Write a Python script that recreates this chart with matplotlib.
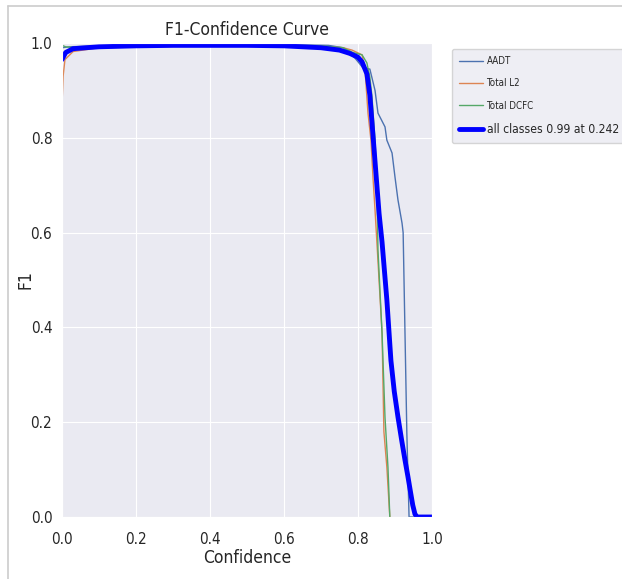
import matplotlib
matplotlib.use("Agg")
import matplotlib.pyplot as plt
import seaborn as sns
from matplotlib.lines import Line2D

sns.set_style("darkgrid")
plt.rcParams['font.family'] = ['DejaVu Sans']
plt.rcParams['font.stretch'] = 'condensed'

# curve points (confidence, F1)
aadt_x = [0.0, 0.02, 0.1, 0.3, 0.5, 0.65, 0.72, 0.76, 0.792, 0.814, 0.832, 0.846, 0.854, 0.873,
          0.878, 0.892, 0.90, 0.908, 0.919, 0.922, 0.927, 0.932, 0.938, 1.0]
aadt_y = [0.99, 0.992, 0.994, 0.996, 0.996, 0.996, 0.995, 0.99, 0.968, 0.947, 0.945, 0.90, 0.852,
          0.823, 0.795, 0.768, 0.717, 0.669, 0.62, 0.60, 0.388, 0.177, 0.0, 0.0]

l2_x = [0.0, 0.003, 0.008, 0.03, 0.1, 0.3, 0.5, 0.7, 0.76, 0.784, 0.811, 0.819, 0.827, 0.835,
        0.841, 0.846, 0.854, 0.865, 0.870, 0.878, 0.886]
l2_y = [0.87, 0.93, 0.965, 0.982, 0.99, 0.993, 0.994, 0.993, 0.99, 0.985, 0.975, 0.943, 0.852,
        0.795, 0.71, 0.648, 0.54, 0.388, 0.18, 0.105, 0.0]

dcfc_x = [0.0, 0.01, 0.03, 0.1, 0.3, 0.5, 0.7, 0.76, 0.786, 0.811, 0.824, 0.832, 0.838, 0.841,
          0.846, 0.851, 0.854, 0.865, 0.873, 0.881, 0.886]
dcfc_y = [0.995, 0.992, 0.99, 0.992, 0.995, 0.995, 0.994, 0.99, 0.98, 0.975, 0.958, 0.928, 0.886,
          0.85, 0.795, 0.71, 0.563, 0.388, 0.21, 0.105, 0.0]

all_x = [0.0, 0.01, 0.03, 0.1, 0.2, 0.3, 0.5, 0.6, 0.7, 0.75, 0.778, 0.80, 0.811, 0.824, 0.832,
         0.841, 0.851, 0.857, 0.865, 0.878, 0.889, 0.898, 0.908, 0.918, 0.927, 0.935, 0.941, 0.948,
         0.954, 0.96, 1.0]
all_y = [0.965, 0.98, 0.988, 0.992, 0.994, 0.995, 0.995, 0.994, 0.99, 0.985, 0.978, 0.97, 0.96,
         0.935, 0.89, 0.80, 0.70, 0.64, 0.58, 0.458, 0.33, 0.265, 0.211, 0.162, 0.12, 0.085, 0.057,
         0.025, 0.006, 0.0, 0.0]

labels = ["AADT", "Total L2", "Total DCFC", "all classes 0.99 at 0.242"]

fig = plt.figure(figsize=(6.22, 5.79), dpi=100)
ax = fig.add_axes([62/622, 1-517/579, 370/622, 474/579])

ax.plot(aadt_x, aadt_y, color="#4C72B0", lw=1, label=labels[0])
ax.plot(l2_x, l2_y, color="#DD8452", lw=1, label=labels[1])
ax.plot(dcfc_x, dcfc_y, color="#55A868", lw=1, label=labels[2])
ax.plot(all_x, all_y, color="blue", lw=3.5, label=labels[3])

ax.set_xlim(0, 1)
ax.set_ylim(0, 1)
ax.set_xticks([0, 0.2, 0.4, 0.6, 0.8, 1.0])
ax.set_yticks([0, 0.2, 0.4, 0.6, 0.8, 1.0])
ax.tick_params(labelsize=11, colors="#262626")
ax.tick_params(axis="x", pad=7)
ax.set_title("F1-Confidence Curve", fontsize=12.5, color="#262626", pad=6)
ax.set_xlabel("Confidence", fontsize=12.5, color="#262626", labelpad=2)
ax.set_ylabel("F1", fontsize=12.5, color="#262626")
ax.yaxis.set_label_coords(-0.075, 0.5)

leg = ax.legend(loc="upper left", bbox_to_anchor=(452/622, 1-49/579),
                bbox_transform=fig.transFigure, borderaxespad=0, fontsize=7, frameon=True,
                borderpad=0.75, labelspacing=1.25, handlelength=2.4, handletextpad=0.4)
leg.get_texts()[3].set_fontsize(8.7)

# thin grey frame around the screenshot
fig.add_artist(Line2D([8/622, 8/622], [0, 1-6/579], transform=fig.transFigure, color="#cccccc", lw=1.2))
fig.add_artist(Line2D([8/622, 1], [1-6/579, 1-6/579], transform=fig.transFigure, color="#cccccc", lw=1.2))

fig.savefig("out.png", dpi=100)
